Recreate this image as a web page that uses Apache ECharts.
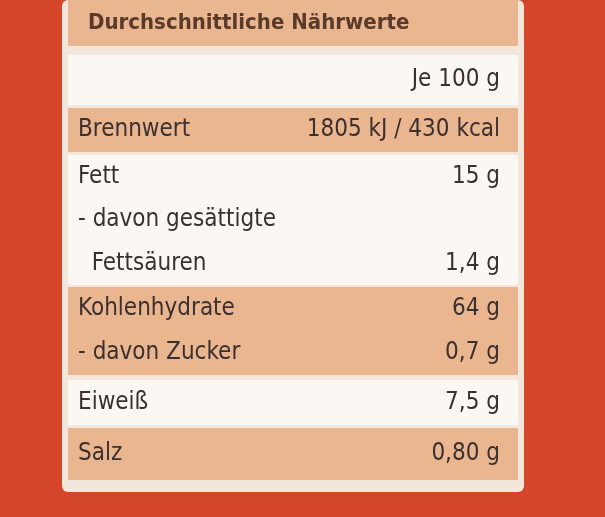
<!DOCTYPE html>
<html><head><meta charset="utf-8">
<script src="https://cdn.jsdelivr.net/npm/echarts@6/dist/echarts.min.js"></script>
<style>html,body{margin:0;padding:0;background:#d4462a}#c{width:605px;height:517px}</style>
</head><body><div id="c"></div>
<script>
const title = "Durchschnittliche Nährwerte";
const rowLabels = [["Je 100 g"],["Brennwert"],["Fett","- davon gesättigte","  Fettsäuren"],["Kohlenhydrate","- davon Zucker"],["Eiweiß"],["Salz"]];
const rowValues = [[""],["1805 kJ / 430 kcal"],["15 g","","1,4 g"],["64 g","0,7 g"],["7,5 g"],["0,80 g"]];
const rowTops = [55,108,155,287,380,428];
const rowBottoms = [105,152,285,375,425,480];
const rowFill = ["#fbf8f3","#e9b68f","#fbf8f3","#e9b68f","#fbf8f3","#e9b68f"];

const chart = echarts.init(document.getElementById('c'));
const g = [];
g.push({type:'rect',shape:{x:0,y:0,width:605,height:517},style:{fill:'#d4462a'}});
g.push({type:'rect',shape:{x:62,y:0,width:462,height:492,r:6},style:{fill:'#f3e6da'}});
g.push({type:'rect',shape:{x:68,y:0,width:450,height:46},style:{fill:'#e9b68f'}});
g.push({type:'text',style:{text:title,x:88,y:23,fill:'#5a3a2a',font:'bold 22px "DejaVu Sans Condensed"',verticalAlign:'middle'}});
rowLabels.forEach((labs,i)=>{
  g.push({type:'rect',shape:{x:68,y:rowTops[i],width:450,height:rowBottoms[i]-rowTops[i]},style:{fill:rowFill[i]}});
  const h=(rowBottoms[i]-rowTops[i])/labs.length;
  labs.forEach((l,j)=>{
    const y=rowTops[i]+h*(j+0.5);
    if(i===0){
      g.push({type:'text',style:{text:l,x:500,y:y,align:'right',verticalAlign:'middle',fill:'#3b3030',font:'24px "DejaVu Sans Condensed"'}});
    } else {
      g.push({type:'text',style:{text:l,x:78,y:y,verticalAlign:'middle',fill:'#3b3030',font:'24px "DejaVu Sans Condensed"'}});
      g.push({type:'text',style:{text:rowValues[i][j],x:500,y:y,align:'right',verticalAlign:'middle',fill:'#3b3030',font:'24px "DejaVu Sans Condensed"'}});
    }
  });
});
chart.setOption({animation:false,graphic:g});
</script></body></html>
